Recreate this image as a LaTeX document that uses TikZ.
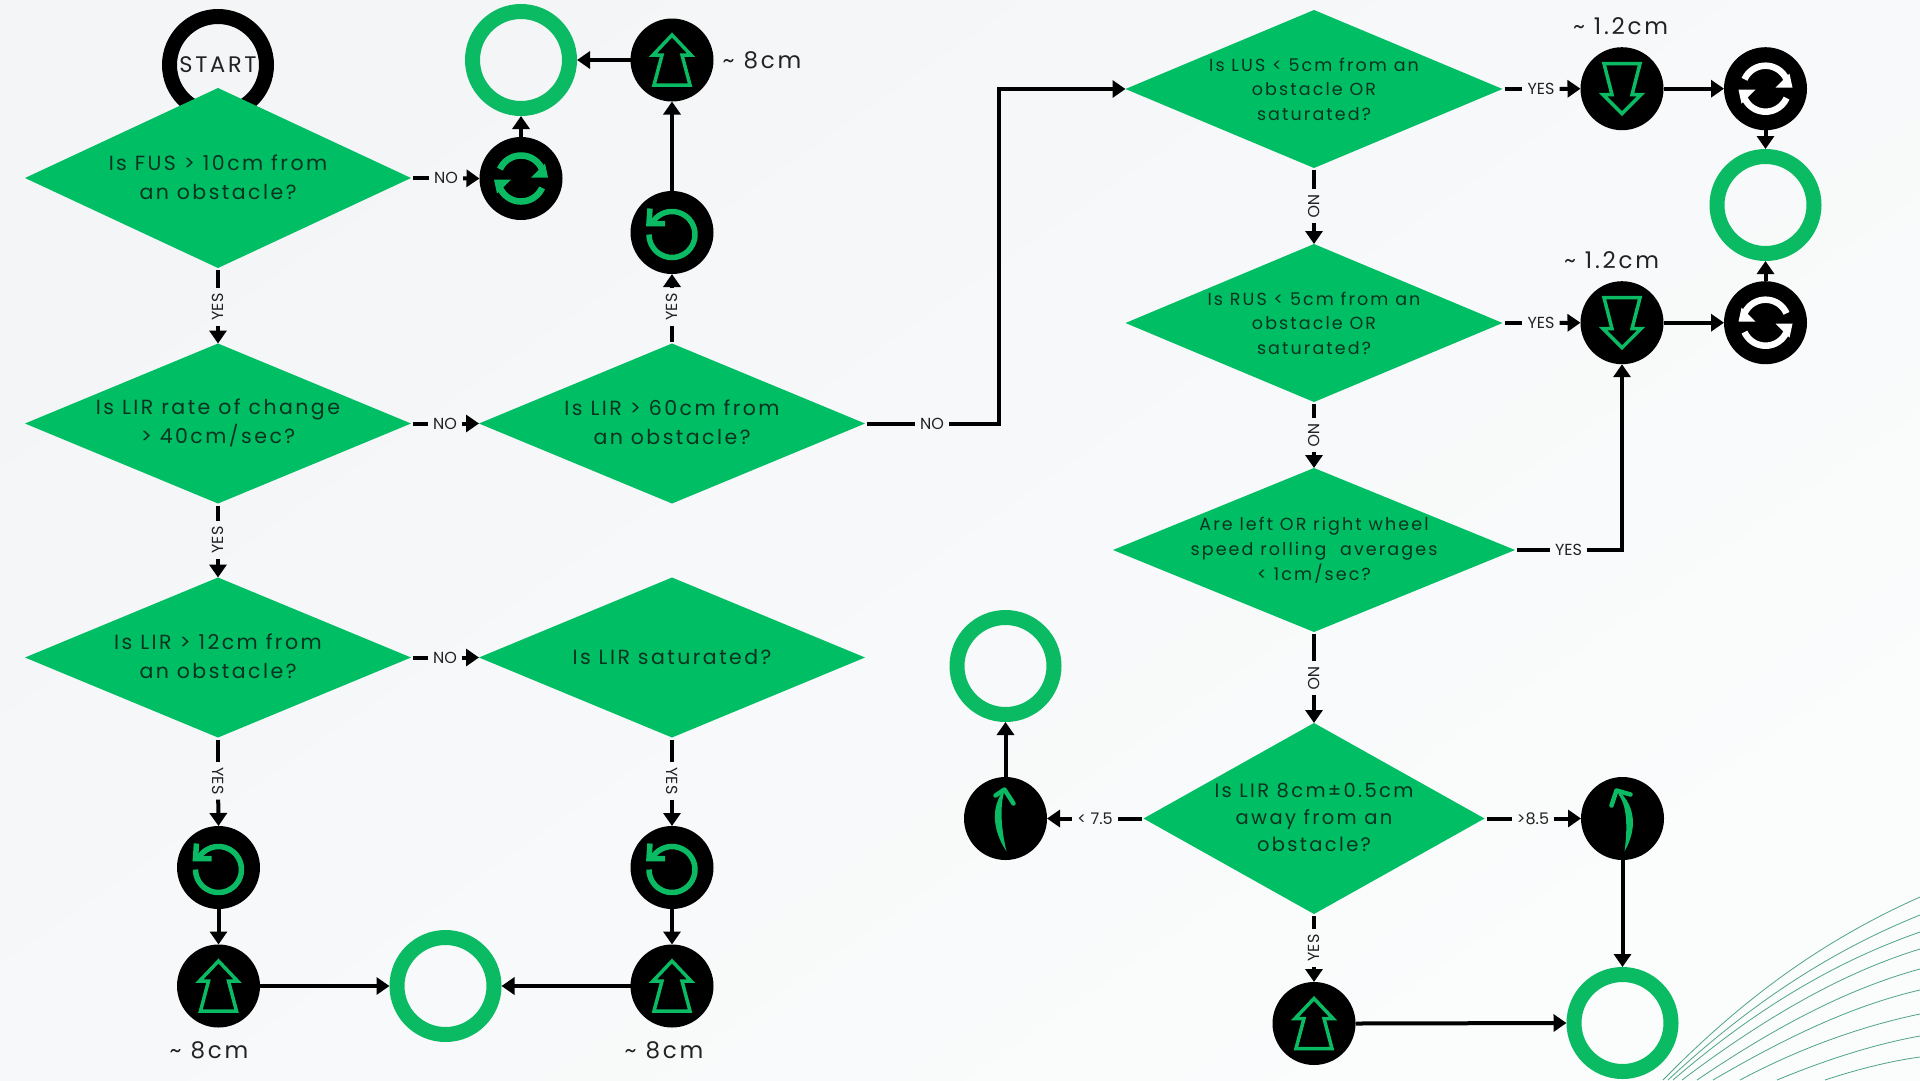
\documentclass[tikz,border=0pt]{standalone}
\usepackage{fontspec}
\setmainfont[LetterSpace=12]{Poppins}
\newfontfamily\lblfont{Poppins}
\usetikzlibrary{shapes.geometric,arrows.meta}
\definecolor{bgA}{HTML}{F3F5F7}
\definecolor{bgB}{HTML}{FBFCFC}
\definecolor{brand}{HTML}{0ABB64}
\definecolor{diaG}{HTML}{00BE63}
\definecolor{dtxt}{HTML}{0A3320}
\definecolor{otxt}{HTML}{222222}
\definecolor{wave}{HTML}{4FA38A}
\tikzset{
  dia/.style={shape=diamond,fill=diaG,inner sep=0pt,outer sep=0pt},
  dlabel/.style={font=\fontsize{20.5}{29}\selectfont,text=dtxt,align=center,inner sep=0pt,yshift=1pt},
  dlabelB/.style={font=\fontsize{17.5}{24.5}\selectfont,text=dtxt,align=center,inner sep=0pt},
  ring/.style={shape=circle,draw=brand,line width=15pt,minimum size=97pt,inner sep=0pt},
  startring/.style={shape=circle,draw=black,line width=15pt,minimum size=97pt,inner sep=0pt,text=otxt,font=\fontsize{22.5}{26}\selectfont},
  disc/.style={shape=circle,fill=black,minimum size=83pt,inner sep=0pt,outer sep=0pt},
  lab/.style={font=\lblfont\fontsize{16}{18}\selectfont,text=otxt,inner xsep=5pt,inner ysep=1pt},
  dist/.style={font=\fontsize{23}{28}\selectfont,text=otxt,inner sep=0pt},
  link/.style={line width=4pt,draw=black},
  go/.style={link,-{Triangle[length=13pt,width=17pt]}},
  iconline/.style={line width=3.5pt,draw=brand,line join=miter},
  wavy/.style={draw=wave,line width=.8pt},
  upicon/.pic={\draw[iconline] (0,-25) -- (19,-5) -- (10,-5) -- (18,25) -- (-18,25) -- (-10,-5) -- (-19,-5) -- cycle;},
  downicon/.pic={\draw[iconline] (0,25) -- (19,6) -- (10,6) -- (18,-25) -- (-18,-25) -- (-10,6) -- (-19,6) -- cycle;},
  ccwicon/.pic={
    \draw[brand,line width=5.5pt] plot[smooth,domain=180:-150,samples=40] ({23*cos(\x)},{2+23*sin(\x)});
    \draw[brand,line width=5.5pt,line join=miter] (-22,-24) -- (-23,-9) -- (-7,-9);},
  syncicon/.pic={
    \foreach \r in {0,180}{
      \begin{scope}[rotate=\r]
        \draw[#1,line width=6.5pt] plot[smooth,domain=204:338,samples=25] ({23*cos(\x)},{23*sin(\x)});
        \fill[#1] (10,-1) -- (27,-1) -- (24,-15) -- cycle;
      \end{scope}}},
  curvel/.pic={
    \fill[brand] (1,33) .. controls (-14,10) and (-14,-12) .. (-2,-28) -- (-2,-24) .. controls (-5,-12) and (-5,8) .. (1,33) -- cycle;
    \draw[brand,line width=4.5pt,line cap=round,line join=round] (-10,-23) -- (-1,-29) -- (8,-15);},
  curver/.pic={
    \fill[brand] (2,33) .. controls (15,10) and (13,-12) .. (-4,-28) -- (-4,-24) .. controls (5,-12) and (5,10) .. (2,33) -- cycle;
    \draw[brand,line width=4.5pt,line cap=round,line join=round] (-11,-13) -- (-6,-28) -- (8,-24);},
}
\begin{document}
\begin{tikzpicture}[x=1pt,y=-1pt]
\useasboundingbox (0,0) rectangle (1920,1080);
\shade[top color=bgA,bottom color=bgB,shading angle=35] (0,0) rectangle (1920,1080);

% decorative curves
\draw[wavy] (1663,1080) .. controls (1753,988) and (1835,935) .. (1920,897);
\draw[wavy] (1668,1080) .. controls (1756,998) and (1838,948) .. (1920,915);
\draw[wavy] (1673,1080) .. controls (1760,1005) and (1840,960) .. (1920,932);
\draw[wavy] (1682,1080) .. controls (1768,1015) and (1845,972) .. (1920,949);
\draw[wavy] (1697,1080) .. controls (1778,1025) and (1850,988) .. (1920,969);
\draw[wavy] (1713,1080) .. controls (1790,1035) and (1855,1005) .. (1920,990);
\draw[wavy] (1740,1080) .. controls (1800,1048) and (1862,1026) .. (1920,1014);
\draw[wavy] (1777,1080) .. controls (1825,1060) and (1875,1044) .. (1920,1036);
\draw[wavy] (1825,1080) .. controls (1855,1070) and (1890,1061) .. (1920,1057);

% start and end rings
\node[startring] (start) at (218,65) {START};
\node[ring] (r1) at (521,60) {};
\node[ring] (r2) at (445.5,986) {};
\node[ring] (r3) at (1765.5,205) {};
\node[ring] (r4) at (1005.5,666) {};
\node[ring] (r5) at (1622.5,1023) {};

% decisions
\node[dia,minimum width=386pt,minimum height=180pt,label={[dlabel]center:{Is FUS > 10cm from\\an obstacle?}}] (d1) at (218,178) {};
\node[dia,minimum width=386pt,minimum height=160pt,label={[dlabel]center:{Is LIR rate of change\\> 40cm/sec?}}] (d2) at (218,423.5) {};
\node[dia,minimum width=386pt,minimum height=160pt,label={[dlabel]center:{Is LIR > 60cm from\\an obstacle?}}] (d3) at (672,423.5) {};
\node[dia,minimum width=386pt,minimum height=160pt,label={[dlabel]center:{Is LIR > 12cm from\\an obstacle?}}] (d4) at (218,657.5) {};
\node[dia,minimum width=386pt,minimum height=160pt,label={[dlabel]center:{Is LIR saturated?}}] (d5) at (672,657.5) {};
\node[dia,minimum width=377pt,minimum height=158pt,label={[dlabelB]center:{Is LUS < 5cm from an\\obstacle OR\\saturated?}}] (d6) at (1314,89) {};
\node[dia,minimum width=377pt,minimum height=158pt,label={[dlabelB]center:{Is RUS < 5cm from an\\obstacle OR\\saturated?}}] (d7) at (1314,323) {};
\node[dia,minimum width=402pt,minimum height=164pt,label={[dlabelB,font=\fontsize{17.5}{25}\selectfont]center:{Are left OR right wheel\\speed rolling\ \ averages\\< 1cm/sec?}}] (d8) at (1314,550) {};
\node[dia,minimum width=341pt,minimum height=191pt,label={[dlabel,font=\fontsize{19.5}{27}\selectfont]center:{Is LIR 8cm±0.5cm\\away from an\\obstacle?}}] (d9) at (1314,818.5) {};

% action discs
\node[disc] (syncA) at (521,178.5) {};
\node[disc] (upA) at (672,60) {};
\node[disc] (ccwA) at (672,232.5) {};
\node[disc] (ccwL) at (218.5,867.5) {};
\node[disc] (upL) at (218.5,986) {};
\node[disc] (ccwR) at (672,867.5) {};
\node[disc] (upR) at (672,986) {};
\node[disc] (dnA) at (1622,88.7) {};
\node[disc] (syncB) at (1765.5,88.7) {};
\node[disc] (dnB) at (1622,322.7) {};
\node[disc] (syncC) at (1765.5,322.7) {};
\node[disc] (turnL) at (1005.5,818.5) {};
\node[disc] (turnR) at (1622.5,818.5) {};
\node[disc] (upB) at (1314,1023.5) {};

\pic at (syncA) {syncicon=brand};
\pic at (upA) {upicon};
\pic at (ccwA) {ccwicon};
\pic at (ccwL) {ccwicon};
\pic at (upL) {upicon};
\pic at (ccwR) {ccwicon};
\pic at (upR) {upicon};
\pic at (dnA) {downicon};
\pic at (syncB) {syncicon=white};
\pic at (dnB) {downicon};
\pic[xscale=-1] at (syncC) {syncicon=white};
\pic at (turnL) {curvel};
\pic at (turnR) {curver};
\pic at (upB) {upicon};

% distance labels
\node[dist] (t1) at (762,60) {\textasciitilde{} 8cm};
\node[dist] (t2) at (209,1050) {\textasciitilde{} 8cm};
\node[dist] (t3) at (664,1050) {\textasciitilde{} 8cm};
\node[dist] (t4) at (1620.5,26) {\textasciitilde{} 1.2cm};
\node[dist] (t5) at (1611.5,260) {\textasciitilde{} 1.2cm};

% connector labels
\node[lab] (l1) at (446,178) {NO};
\node[lab,rotate=90] (l2) at (218,307) {YES};
\node[lab] (l3) at (445,423.5) {NO};
\node[lab,rotate=90] (l4) at (672,307) {YES};
\node[lab] (l5) at (932,423.5) {NO};
\node[lab,rotate=90] (l6) at (218,540) {YES};
\node[lab] (l7) at (445,657.5) {NO};
\node[lab,rotate=-90] (l8) at (218,781) {YES};
\node[lab,rotate=-90] (l9) at (672,781) {YES};
\node[lab] (l10) at (1541,89) {YES};
\node[lab,rotate=-90] (l11) at (1314,206) {NO};
\node[lab] (l12) at (1541,323) {YES};
\node[lab,rotate=-90] (l13) at (1314,435) {NO};
\node[lab] (l14) at (1568.5,550) {YES};
\node[lab,rotate=-90] (l15) at (1314,678) {NO};
\node[lab] (l16) at (1095,818.5) {< 7.5};
\node[lab] (l17) at (1533,818.5) {>8.5};
\node[lab,rotate=90] (l18) at (1314,948) {YES};

\coordinate (k1) at (999,423.5);
\coordinate (k2) at (1622,550);

% connectors
\draw[link,shorten <=2pt] (d1.east) -- (l1);
\draw[go] (l1) -- (syncA.west);
\draw[go] (syncA.north) -- (r1.south);
\draw[go] (upA.west) -- (r1.east);
\draw[go] (ccwA.north) -- (upA.south);
\draw[link,shorten <=2pt] (d1.south) -- (l2);
\draw[go] (l2) -- (d2.north);
\draw[link,shorten <=2pt] (d2.east) -- (l3);
\draw[go] (l3) -- (d3.west);
\draw[link,shorten <=2pt] (d3.north) -- (l4);
\draw[go] (l4) -- (ccwA.south);
\draw[link,shorten <=2pt] (d3.east) -- (l5);
\draw[go] (l5) -- (k1) |- (d6.west);
\draw[link,shorten <=2pt] (d2.south) -- (l6);
\draw[go] (l6) -- (d4.north);
\draw[link,shorten <=2pt] (d4.east) -- (l7);
\draw[go] (l7) -- (d5.west);
\draw[link,shorten <=2pt] (d4.south) -- (l8);
\draw[go] (l8) -- (ccwL.north);
\draw[link,shorten <=2pt] (d5.south) -- (l9);
\draw[go] (l9) -- (ccwR.north);
\draw[go] (ccwL.south) -- (upL.north);
\draw[go] (ccwR.south) -- (upR.north);
\draw[go] (upL.east) -- (r2.west);
\draw[go] (upR.west) -- (r2.east);
\draw[link,shorten <=2pt] (d6.east) -- (l10);
\draw[go] (l10) -- (dnA.west);
\draw[go] (dnA.east) -- (syncB.west);
\draw[go] (syncB.south) -- (r3.north);
\draw[link,shorten <=2pt] (d6.south) -- (l11);
\draw[go] (l11) -- (d7.north);
\draw[link,shorten <=2pt] (d7.east) -- (l12);
\draw[go] (l12) -- (dnB.west);
\draw[go] (dnB.east) -- (syncC.west);
\draw[go] (syncC.north) -- (r3.south);
\draw[link,shorten <=2pt] (d7.south) -- (l13);
\draw[go] (l13) -- (d8.north);
\draw[link,shorten <=2pt] (d8.east) -- (l14);
\draw[go] (l14) -- (k2) -- (dnB.south);
\draw[link,shorten <=2pt] (d8.south) -- (l15);
\draw[go] (l15) -- (d9.north);
\draw[link,shorten <=2pt] (d9.west) -- (l16);
\draw[go] (l16) -- (turnL.east);
\draw[go] (turnL.north) -- (r4.south);
\draw[link,shorten <=2pt] (d9.east) -- (l17);
\draw[go] (l17) -- (turnR.west);
\draw[go] (turnR.south) -- (r5.north);
\draw[link,shorten <=2pt] (d9.south) -- (l18);
\draw[go] (l18) -- (upB.north);
\draw[go] (upB.east) -- (r5.west);
\end{tikzpicture}
\end{document}
